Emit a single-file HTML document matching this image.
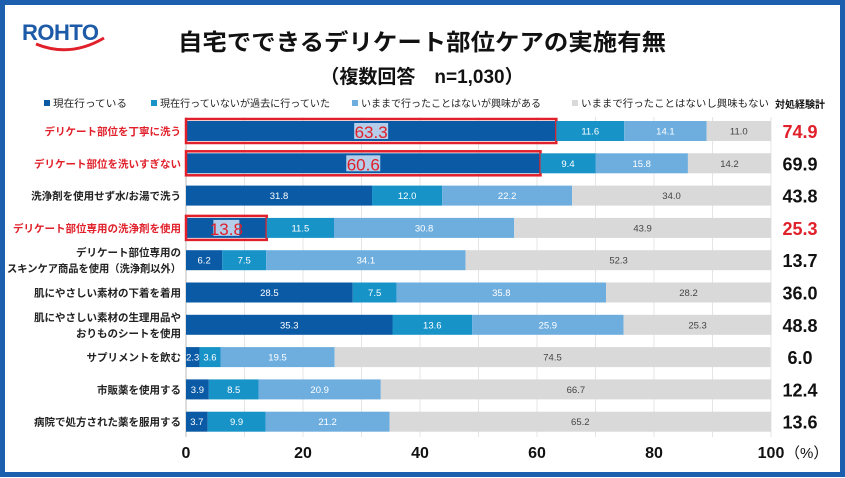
<!DOCTYPE html>
<html><head><meta charset="utf-8">
<style>
html,body{margin:0;padding:0;background:#fff;}
svg{display:block;font-family:"Liberation Sans","Noto Sans CJK JP",sans-serif;}
</style></head>
<body>
<svg id="chart" width="845" height="478" viewBox="0 0 845 478" xmlns="http://www.w3.org/2000/svg">
<rect x="2.5" y="2.5" width="840" height="472" fill="#fff" stroke="#1c5fae" stroke-width="5"/>
<g>
<text x="22" y="40" font-size="22" font-weight="bold" fill="#1d5aa8" letter-spacing="-0.5">ROHTO</text>
<path d="M36 44 Q70 58 104 38" fill="none" stroke="#e0202a" stroke-width="3"/>
</g>
<text x="422" y="50" font-size="23" font-weight="bold" text-anchor="middle" fill="#111" textLength="488" lengthAdjust="spacingAndGlyphs">自宅でできるデリケート部位ケアの実施有無</text>
<text x="422" y="83" font-size="19" font-weight="bold" text-anchor="middle" fill="#111">（複数回答　n=1,030）</text>
<g id="legend"></g>
<text x="800" y="108" font-size="10" font-weight="bold" text-anchor="middle" fill="#111">対処経験計</text>
<g id="grid"></g>
<g id="bars"></g>
<g id="xaxis"></g>
</svg>
<script>
const categories = ["デリケート部位を丁寧に洗う","デリケート部位を洗いすぎない","洗浄剤を使用せず水/お湯で洗う","デリケート部位専用の洗浄剤を使用","デリケート部位専用の|スキンケア商品を使用（洗浄剤以外）","肌にやさしい素材の下着を着用","肌にやさしい素材の生理用品や|おりものシートを使用","サプリメントを飲む","市販薬を使用する","病院で処方された薬を服用する"];
const current = [63.3,60.6,31.8,13.8,6.2,28.5,35.3,2.3,3.9,3.7];
const past = [11.6,9.4,12.0,11.5,7.5,7.5,13.6,3.6,8.5,9.9];
const interested = [14.1,15.8,22.2,30.8,34.1,35.8,25.9,19.5,20.9,21.2];
const never = [11.0,14.2,34.0,43.9,52.3,28.2,25.3,74.5,66.7,65.2];
const totals = [74.9,69.9,43.8,25.3,13.7,36.0,48.8,6.0,12.4,13.6];
const highlighted = [true,true,false,true,false,false,false,false,false,false];
const seriesNames = ["現在行っている","現在行っていないが過去に行っていた","いままで行ったことはないが興味がある","いままで行ったことはないし興味もない"];
const xTicks = [0,20,40,60,80,100];

const NS="http://www.w3.org/2000/svg";
const X0=186,X1=771,rowTop=131,rowStep=32.3,barH=20;
const xs=v=>X0+(X1-X0)*v/100;
const yc=i=>rowTop+i*rowStep;
const colors=["#0a5aa6","#1893c8","#6eaedf","#d9d9d9"];
const txtCol=["#fff","#fff","#fff","#444"];
function mk(tag,attrs,parent,txt){const e=document.createElementNS(NS,tag);for(const k in attrs)e.setAttribute(k,attrs[k]);if(txt!==undefined)e.textContent=txt;parent.appendChild(e);return e;}

const leg=document.getElementById('legend');
const legX=[44,151,352,572];
const legW=[74,170,180,188];
seriesNames.forEach((n,i)=>{
  const r=mk('rect',{x:legX[i],y:100,width:6,height:6,fill:colors[i]},leg);
  
  
  const t=mk('text',{x:legX[i]+9,y:107,'font-size':10,fill:'#222',textLength:legW[i],lengthAdjust:'spacingAndGlyphs'},leg,n);
  
  
});

const grid=document.getElementById('grid');
for(let v=10;v<=100;v+=10){
  const l=mk('line',{x1:xs(v),x2:xs(v),y1:117,y2:437,stroke:'#e4e4e4','stroke-width':1},grid);
  
  
}
const ax=mk('line',{x1:X0,x2:X0,y1:117,y2:437,stroke:'#bbb'},grid);



const bars=document.getElementById('bars');
const series=[current,past,interested,never];
categories.forEach((c,i)=>{
  const y=yc(i);
  const lines=c.split('|');
  lines.forEach((ln,k)=>{
    const attrs={x:181,y:y+4+(k-(lines.length-1)/2)*16,'font-size':10.5,'font-weight':'bold','text-anchor':'end',fill:highlighted[i]?'#e0202a':'#222'};
    if(ln.length>16){attrs.textLength=174;attrs.lengthAdjust='spacingAndGlyphs';}
    const t=mk('text',attrs,bars,ln);
    
    
  });
  let acc=0;
  series.forEach((s,j)=>{
    const v=s[i];
    const r=mk('rect',{x:xs(acc),y:y-barH/2,width:xs(acc+v)-xs(acc),height:barH,fill:colors[j]},bars);
    
    
    const cx=(xs(acc)+xs(acc+v))/2;
    if(j===0&&highlighted[i]){
      const bw=v>20?34:26;
      const bg=mk('rect',{x:cx-bw/2,y:y-8,width:bw,height:16,fill:'#b4cde8'},bars);
      
      
      const t=mk('text',{x:cx,y:y+7,'font-size':17,'text-anchor':'middle',fill:'#e0202a'},bars,v.toFixed(1));
      
      
      const box=mk('rect',{x:xs(0),y:y-barH/2-2,width:xs(v)-xs(0),height:barH+4,fill:'none',stroke:'#e0202a','stroke-width':2.5},bars);
      
      
    } else {
      const t=mk('text',{x:cx,y:y+3.5,'font-size':9.5,'text-anchor':'middle',fill:txtCol[j]},bars,v.toFixed(1));
      
      
    }
    acc+=v;
  });
  const tt=mk('text',{x:800,y:y+7,'font-size':18,'font-weight':'bold','text-anchor':'middle',fill:highlighted[i]&&i!==1?'#e0202a':'#111'},bars,totals[i].toFixed(1));
  
  
});

const xa=document.getElementById('xaxis');
xTicks.forEach(v=>{
  const t=mk('text',{x:xs(v),y:458,'font-size':16,'font-weight':'bold','text-anchor':'middle',fill:'#111'},xa,String(v));
  
  
});
const pu=mk('text',{x:xs(100)+14,y:458,'font-size':15,fill:'#111'},xa,'（%）');


</script>
</body></html>
